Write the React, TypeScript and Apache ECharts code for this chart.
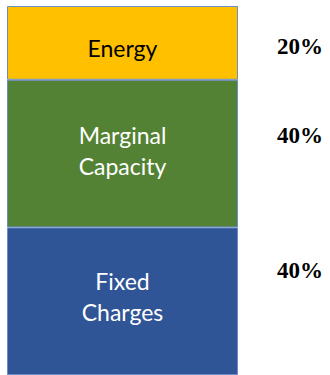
import React, { useEffect, useRef } from "react";
import * as echarts from "echarts";

const categories = ["Price"];
const seriesNames = ["Fixed\nCharges", "Marginal\nCapacity", "Energy"];
const seriesValues = [40, 40, 20];
const seriesColors = ["#2F5597", "#548235", "#FFC000"];
const labelColors = ["#ffffff", "#ffffff", "#000000"];
const labelOffsets = [[0, -5], [0, -3], [0, 5]];
const percentTops = [272, 137, 48];

export default function App() {
  const ref = useRef<HTMLDivElement>(null);
  useEffect(() => {
    if (!ref.current) return;
    const chart = echarts.init(ref.current, null, { renderer: "svg" });
    chart.setOption({
      animation: false,
      grid: { left: 7, top: 6, width: 231, height: 370 },
      xAxis: { type: "category", data: categories, show: false },
      yAxis: { type: "value", min: 0, max: 100, show: false },
      series: seriesNames.map((name, i) => ({
        type: "bar",
        name,
        stack: "total",
        barWidth: "100%",
        data: [seriesValues[i]],
        itemStyle: { color: seriesColors[i], borderColor: "#6A8CC7", borderWidth: 1 },
        label: {
          show: true,
          position: "inside",
          offset: labelOffsets[i],
          formatter: name,
          color: labelColors[i],
          fontFamily: "Lato",
          fontSize: 23,
          lineHeight: 31,
        },
      })),
      graphic: seriesValues.map((v, i) => ({
        type: "text",
        left: 277,
        top: percentTops[i] - 13,
        style: {
          text: `${v}%`,
          fontFamily: "Liberation Serif",
          fontWeight: "bold",
          fontSize: 23,
          fill: "#000",
        },
      })),
    });
    return () => chart.dispose();
  }, []);
  return <div ref={ref} style={{ width: 330, height: 375, position: "absolute", left: 0, top: 0 }} />;
}
